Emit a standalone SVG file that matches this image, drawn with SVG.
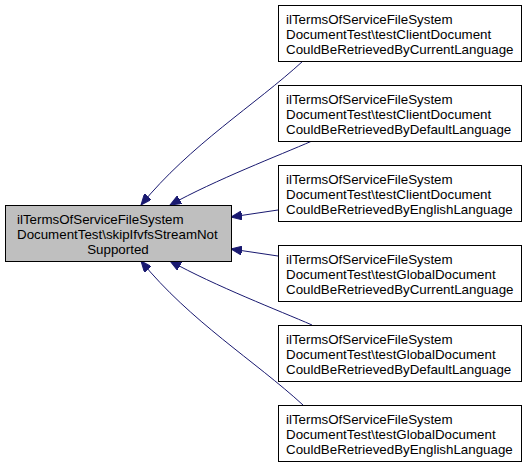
<svg xmlns="http://www.w3.org/2000/svg" width="527" height="467" viewBox="0 0 527 467">
<defs>
<style>
.box{fill:#ffffff;stroke:#000000;stroke-width:1}
.main{fill:#bfbfbf;stroke:#000000;stroke-width:1}
text{font-family:"Liberation Sans",Arial,Helvetica,sans-serif;font-size:13.33px;fill:#000000}
.edge{fill:none;stroke:#191970;stroke-width:1}
</style>
<marker id="arr" markerUnits="userSpaceOnUse" markerWidth="12" markerHeight="9" refX="11" refY="4.5" orient="auto">
<path d="M0,0 L11,4.5 L0,9 z" fill="#191970" stroke="#191970" stroke-width="1"/>
</marker>
</defs>
<rect width="527" height="467" fill="#ffffff"/>
<g id="edges">
<path class="edge" marker-end="url(#arr)" d="M303,61 C255,105 190,145 141,205"/>
<path class="edge" marker-end="url(#arr)" d="M312,141 C280,155 215,180 170,205"/>
<path class="edge" marker-end="url(#arr)" d="M278,210 L231,217"/>
<path class="edge" marker-end="url(#arr)" d="M278,256 L231,249"/>
<path class="edge" marker-end="url(#arr)" d="M312,325 C280,311 215,286 170,261"/>
<path class="edge" marker-end="url(#arr)" d="M303,405 C255,361 190,321 141,261"/>
</g>
<g id="node-main">
<rect class="main" x="5.5" y="205.5" width="226" height="56"/>
<text x="17" y="224">ilTermsOfServiceFileSystem</text>
<text x="17" y="239">DocumentTest\skipIfvfsStreamNot</text>
<text x="118" y="253.5" text-anchor="middle">Supported</text>
</g>
<g id="node-1">
<rect class="box" x="278.5" y="5.5" width="243" height="56"/>
<text x="286" y="24">ilTermsOfServiceFileSystem</text>
<text x="286" y="39">DocumentTest\testClientDocument</text>
<text x="286" y="53.5">CouldBeRetrievedByCurrentLanguage</text>
</g>
<g id="node-2">
<rect class="box" x="278.5" y="85.5" width="243" height="56"/>
<text x="286" y="104">ilTermsOfServiceFileSystem</text>
<text x="286" y="119">DocumentTest\testClientDocument</text>
<text x="286" y="133.5">CouldBeRetrievedByDefaultLanguage</text>
</g>
<g id="node-3">
<rect class="box" x="278.5" y="165.5" width="243" height="56"/>
<text x="286" y="184">ilTermsOfServiceFileSystem</text>
<text x="286" y="199">DocumentTest\testClientDocument</text>
<text x="286" y="213.5">CouldBeRetrievedByEnglishLanguage</text>
</g>
<g id="node-4">
<rect class="box" x="278.5" y="245.5" width="243" height="56"/>
<text x="286" y="264">ilTermsOfServiceFileSystem</text>
<text x="286" y="279">DocumentTest\testGlobalDocument</text>
<text x="286" y="293.5">CouldBeRetrievedByCurrentLanguage</text>
</g>
<g id="node-5">
<rect class="box" x="278.5" y="325.5" width="243" height="56"/>
<text x="286" y="344">ilTermsOfServiceFileSystem</text>
<text x="286" y="359">DocumentTest\testGlobalDocument</text>
<text x="286" y="373.5">CouldBeRetrievedByDefaultLanguage</text>
</g>
<g id="node-6">
<rect class="box" x="278.5" y="405.5" width="243" height="56"/>
<text x="286" y="424">ilTermsOfServiceFileSystem</text>
<text x="286" y="439">DocumentTest\testGlobalDocument</text>
<text x="286" y="453.5">CouldBeRetrievedByEnglishLanguage</text>
</g>
</svg>
